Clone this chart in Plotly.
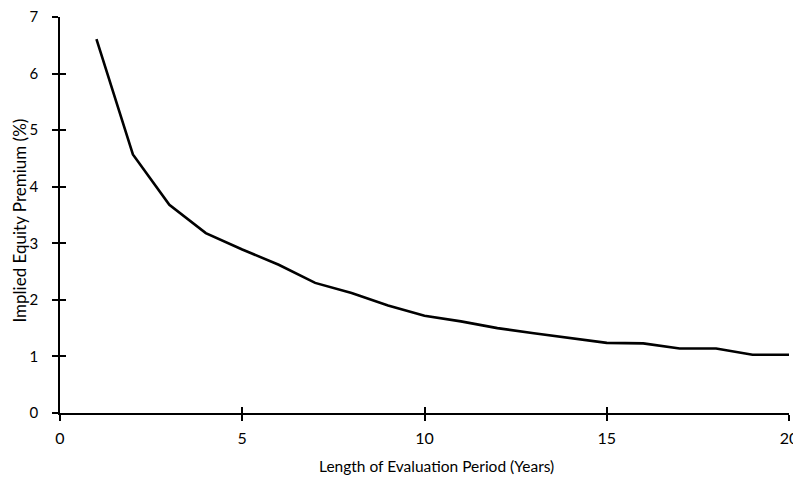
import plotly.graph_objects as go

years = [1, 2, 3, 4, 5, 6, 7, 8, 9, 10, 11, 12, 13, 14, 15, 16, 17, 18, 19, 20]
premium = [6.61, 4.57, 3.68, 3.18, 2.89, 2.62, 2.30, 2.12, 1.90, 1.72, 1.62, 1.50, 1.41, 1.32, 1.24, 1.23, 1.14, 1.14, 1.03, 1.03]

x_ticks = [0, 5, 10, 15, 20]
y_ticks = [0, 1, 2, 3, 4, 5, 6, 7]

x_title = "Length of Evaluation Period (Years)"
y_title = "Implied Equity Premium (%)"

font_family = "Lato, Open Sans, sans-serif"

fig = go.Figure()
fig.add_trace(go.Scatter(x=years, y=premium, mode="lines",
                         line=dict(color="black", width=2.6), showlegend=False))
# invisible trace on secondary axes to hold inner ticks
fig.add_trace(go.Scatter(x=[0], y=[0], xaxis="x2", yaxis="y2", mode="markers",
                         marker=dict(opacity=0), showlegend=False, hoverinfo="skip"))

fig.update_layout(
    width=793, height=472,
    margin=dict(l=52, r=12, t=9, b=67),
    paper_bgcolor="white", plot_bgcolor="white",
    font=dict(family=font_family, color="black"),
    xaxis=dict(range=[0, 20], tickvals=x_ticks, ticks="outside", ticklen=6, tickwidth=1.5,
               tickcolor="black", showline=True, linecolor="black", linewidth=1.5,
               showgrid=False, zeroline=False, tickfont=dict(size=16), automargin=False,
               ticklabelstandoff=4, ticklabeloverflow="allow"),
    yaxis=dict(range=[0, 7], tickvals=y_ticks, ticks="outside", ticklen=6, tickwidth=1.5,
               tickcolor="black", showline=True, linecolor="black", linewidth=1.5,
               showgrid=False, zeroline=False, tickfont=dict(size=15), automargin=False,
               ticklabelstandoff=11, ticklabeloverflow="allow"),
    xaxis2=dict(range=[0, 20], tickvals=x_ticks, ticks="inside", ticklen=6, tickwidth=1.5,
                tickcolor="black", showticklabels=False, showgrid=False, zeroline=False,
                overlaying="x", side="bottom", anchor="y2", automargin=False),
    yaxis2=dict(range=[0, 7], tickvals=y_ticks, ticks="inside", ticklen=6, tickwidth=1.5,
                tickcolor="black", showticklabels=False, showgrid=False, zeroline=False,
                overlaying="y", side="left", anchor="x2", automargin=False),
    annotations=[
        dict(text=x_title, xref="paper", yref="paper", x=0.517, y=0,
             xanchor="center", yanchor="middle", yshift=-53, showarrow=False,
             font=dict(size=15.5, family=font_family, color="black")),
        dict(text=y_title, xref="paper", yref="paper", x=0, y=0.486,
             xanchor="center", yanchor="middle", xshift=-40, textangle=-90, showarrow=False,
             font=dict(size=17, family=font_family, color="black")),
    ],
)

fig.write_html("out.html")
